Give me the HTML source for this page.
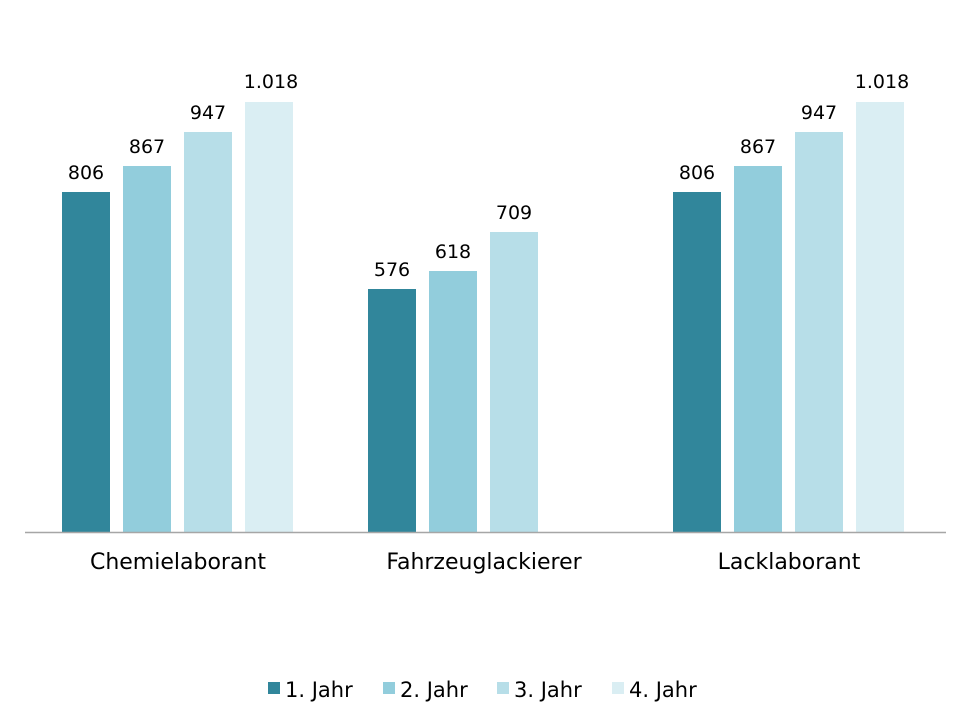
<!DOCTYPE html>
<html><head><meta charset="utf-8"><style>
body{margin:0;background:#fff;}
svg text{font-family:"DejaVu Sans","Liberation Sans",sans-serif;fill:#000;}
</style></head><body>
<svg width="960" height="720" xmlns="http://www.w3.org/2000/svg">
<g>
<rect x="62" y="192" width="48" height="340" fill="#31869B"/>
<rect x="123" y="166" width="48" height="366" fill="#92CDDC"/>
<rect x="184" y="132" width="48" height="400" fill="#B7DEE8"/>
<rect x="245" y="102" width="48" height="430" fill="#DAEEF3"/>
<rect x="368" y="289" width="48" height="243" fill="#31869B"/>
<rect x="429" y="271" width="48" height="261" fill="#92CDDC"/>
<rect x="490" y="232" width="48" height="300" fill="#B7DEE8"/>
<rect x="673" y="192" width="48" height="340" fill="#31869B"/>
<rect x="734" y="166" width="48" height="366" fill="#92CDDC"/>
<rect x="795" y="132" width="48" height="400" fill="#B7DEE8"/>
<rect x="856" y="102" width="48" height="430" fill="#DAEEF3"/>
</g>
<line x1="25" y1="532.5" x2="946" y2="532.5" stroke="#A6A6A6" stroke-width="1.5"/>
<g font-size="19" text-anchor="middle">
<text x="86" y="179">806</text><text x="147" y="153">867</text><text x="208" y="119">947</text><text x="271" y="88">1.018</text>
<text x="392" y="276">576</text><text x="453" y="258">618</text><text x="514" y="219">709</text>
<text x="697" y="179">806</text><text x="758" y="153">867</text><text x="819" y="119">947</text><text x="882" y="88">1.018</text>
</g>
<g font-size="22" text-anchor="middle">
<text x="178" y="569">Chemielaborant</text><text x="484" y="569">Fahrzeuglackierer</text><text x="789" y="569">Lacklaborant</text>
</g>
<g font-size="21">
<rect x="268" y="682" width="12" height="12" fill="#31869B"/><text x="285" y="697">1. Jahr</text>
<rect x="383" y="682" width="12" height="12" fill="#92CDDC"/><text x="400" y="697">2. Jahr</text>
<rect x="497" y="682" width="12" height="12" fill="#B7DEE8"/><text x="514" y="697">3. Jahr</text>
<rect x="612" y="682" width="12" height="12" fill="#DAEEF3"/><text x="629" y="697">4. Jahr</text>
</g>
</svg>
</body></html>
